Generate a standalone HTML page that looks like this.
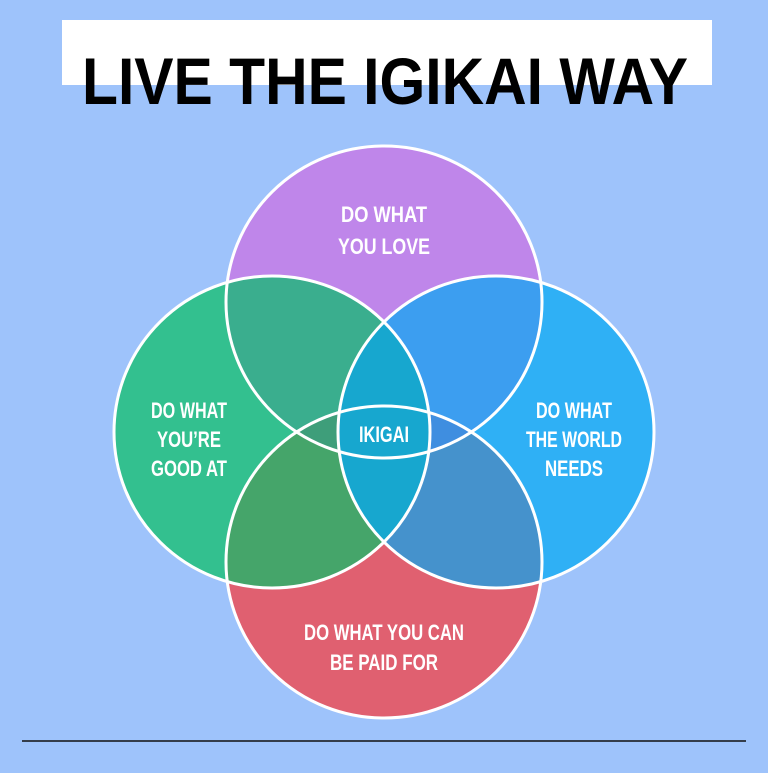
<!DOCTYPE html>
<html><head><style>html,body{margin:0;padding:0;background:#9ec3fb}</style></head>
<body>
<svg width="768" height="768" viewBox="0 0 768 768" xmlns="http://www.w3.org/2000/svg">
<defs>
<ellipse id="T" cx="384" cy="302" rx="158" ry="156"/>
<ellipse id="L" cx="272" cy="432" rx="158" ry="156"/>
<ellipse id="R" cx="496" cy="432" rx="158" ry="156"/>
<ellipse id="B" cx="384" cy="562" rx="158" ry="156"/>
<clipPath id="cT"><use href="#T"/></clipPath>
<clipPath id="cL"><use href="#L"/></clipPath>
<clipPath id="cR"><use href="#R"/></clipPath>
<clipPath id="cB"><use href="#B"/></clipPath>
</defs>
<rect width="768" height="768" fill="#9ec3fb"/>
<rect x="62" y="20" width="650" height="65" fill="#fff"/>
<text x="385" y="104" text-anchor="middle" font-family="Liberation Sans, sans-serif" font-weight="bold" font-size="66" textLength="606" lengthAdjust="spacingAndGlyphs" fill="#000">LIVE THE IGIKAI WAY</text>
<use href="#T" fill="#bf86ea"/>
<use href="#L" fill="#33c08f"/>
<use href="#R" fill="#2fb0f5"/>
<use href="#B" fill="#e06070"/>
<g clip-path="url(#cT)"><use href="#L" fill="#3aae8e"/><use href="#R" fill="#3c9ef0"/></g>
<g clip-path="url(#cB)"><use href="#L" fill="#45a56a"/><use href="#R" fill="#4592cc"/></g>
<g clip-path="url(#cT)"><g clip-path="url(#cB)"><use href="#L" fill="#3e9e7a"/><use href="#R" fill="#3f8ee0"/></g></g>
<g clip-path="url(#cL)"><use href="#R" fill="#17a7cf"/></g>
<g fill="none" stroke="#fff" stroke-width="3">
<use href="#T"/><use href="#L"/><use href="#R"/><use href="#B"/>
</g>
<g fill="#fff" font-family="Liberation Sans, sans-serif" font-weight="bold" font-size="22" text-anchor="middle">
<text x="384" y="222" textLength="86" lengthAdjust="spacingAndGlyphs">DO WHAT</text>
<text x="384" y="254" textLength="92" lengthAdjust="spacingAndGlyphs">YOU LOVE</text>
<text x="189" y="418" textLength="76" lengthAdjust="spacingAndGlyphs">DO WHAT</text>
<text x="189" y="447" textLength="64" lengthAdjust="spacingAndGlyphs">YOU’RE</text>
<text x="189" y="476" textLength="76" lengthAdjust="spacingAndGlyphs">GOOD AT</text>
<text x="574" y="418" textLength="76" lengthAdjust="spacingAndGlyphs">DO WHAT</text>
<text x="574" y="447" textLength="96" lengthAdjust="spacingAndGlyphs">THE WORLD</text>
<text x="574" y="476" textLength="58" lengthAdjust="spacingAndGlyphs">NEEDS</text>
<text x="384" y="442" textLength="50" lengthAdjust="spacingAndGlyphs">IKIGAI</text>
<text x="384" y="640" textLength="160" lengthAdjust="spacingAndGlyphs">DO WHAT YOU CAN</text>
<text x="384" y="670" textLength="108" lengthAdjust="spacingAndGlyphs">BE PAID FOR</text>
</g>
<line x1="22" y1="741" x2="746" y2="741" stroke="#111" stroke-width="1.5"/>
</svg>
</body></html>
